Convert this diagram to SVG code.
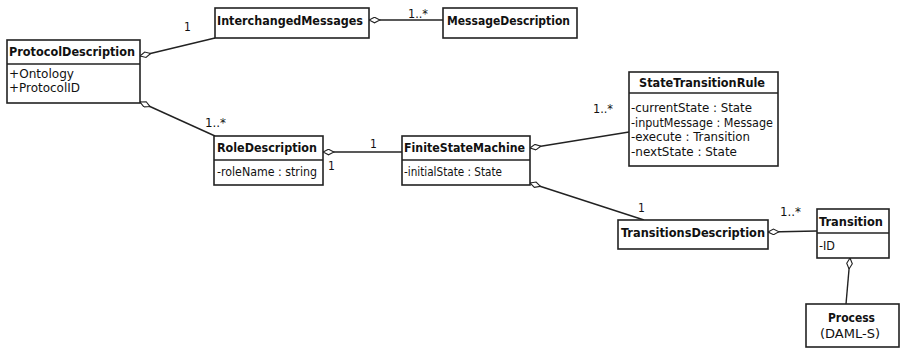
<svg xmlns="http://www.w3.org/2000/svg" width="901" height="348" viewBox="0 0 901 348">
<style>
.box{fill:#fff;stroke:#222;stroke-width:1.6}
.div{stroke:#222;stroke-width:1.4}
.t{font-family:"DejaVu Sans Condensed","DejaVu Sans",sans-serif;font-weight:bold;font-size:12.5px;fill:#111}
.a{font-family:"DejaVu Sans Condensed","DejaVu Sans",sans-serif;font-size:11.5px;fill:#111}
.m{font-family:"DejaVu Sans Condensed","DejaVu Sans",sans-serif;font-size:12px;fill:#111}
.c{fill:none;stroke:#222;stroke-width:1.4;marker-start:url(#dia)}
</style>
<defs>
<marker id="dia" viewBox="0 0 12 7" refX="0.5" refY="3.5" markerWidth="12" markerHeight="7" markerUnits="userSpaceOnUse" orient="auto">
<path d="M0.5,3.5 L6,0.7 L11.5,3.5 L6,6.3 Z" fill="#fff" stroke="#222" stroke-width="1.1"/>
</marker>
</defs>
<rect width="901" height="348" fill="#fff"/>
<g id="connectors">
<path class="c" d="M140,56 L215,38"/>
<path class="c" d="M140,102 L215,136"/>
<path class="c" d="M369,20 L443,20"/>
<path class="c" d="M323,152 L402,152"/>
<path class="c" d="M530,148 L629,132"/>
<path class="c" d="M530,183 L644,220"/>
<path class="c" d="M768,232 L817,231"/>
<path class="c" d="M850,258 L846,304"/>
<text class="m" x="184" y="31">1</text>
<text class="m" x="408" y="18" textLength="20" lengthAdjust="spacingAndGlyphs">1..*</text>
<text class="m" x="205" y="127" textLength="21" lengthAdjust="spacingAndGlyphs">1..*</text>
<text class="m" x="370" y="148">1</text>
<text class="m" x="328" y="170">1</text>
<text class="m" x="593" y="113" textLength="20" lengthAdjust="spacingAndGlyphs">1..*</text>
<text class="m" x="638" y="212">1</text>
<text class="m" x="780" y="216" textLength="21" lengthAdjust="spacingAndGlyphs">1..*</text>
</g>
<g id="ProtocolDescription">
<rect class="box" x="7" y="40" width="133" height="63"/>
<line class="div" x1="7" y1="64" x2="140" y2="64"/>
<text class="t" x="9" y="56" textLength="126" lengthAdjust="spacingAndGlyphs">ProtocolDescription</text>
<text class="a" x="9" y="78" textLength="65" lengthAdjust="spacingAndGlyphs">+Ontology</text>
<text class="a" x="9" y="92" textLength="71" lengthAdjust="spacingAndGlyphs">+ProtocolID</text>
</g>
<g id="InterchangedMessages">
<rect class="box" x="215" y="8" width="154" height="30"/>
<text class="t" x="217" y="25" textLength="146" lengthAdjust="spacingAndGlyphs">InterchangedMessages</text>
</g>
<g id="MessageDescription">
<rect class="box" x="443" y="8" width="134" height="30"/>
<text class="t" x="447" y="25" textLength="123" lengthAdjust="spacingAndGlyphs">MessageDescription</text>
</g>
<g id="StateTransitionRule">
<rect class="box" x="629" y="72" width="149" height="94"/>
<line class="div" x1="629" y1="93" x2="778" y2="93"/>
<text class="t" x="639" y="87" textLength="126" lengthAdjust="spacingAndGlyphs">StateTransitionRule</text>
<text class="a" x="631" y="112" textLength="121" lengthAdjust="spacingAndGlyphs">-currentState : State</text>
<text class="a" x="631" y="127" textLength="142" lengthAdjust="spacingAndGlyphs">-inputMessage : Message</text>
<text class="a" x="631" y="141" textLength="119" lengthAdjust="spacingAndGlyphs">-execute : Transition</text>
<text class="a" x="631" y="156" textLength="106" lengthAdjust="spacingAndGlyphs">-nextState : State</text>
</g>
<g id="RoleDescription">
<rect class="box" x="214" y="136" width="109" height="49"/>
<line class="div" x1="214" y1="160" x2="323" y2="160"/>
<text class="t" x="217" y="152" textLength="100" lengthAdjust="spacingAndGlyphs">RoleDescription</text>
<text class="a" x="217" y="176" textLength="100" lengthAdjust="spacingAndGlyphs">-roleName : string</text>
</g>
<g id="FiniteStateMachine">
<rect class="box" x="402" y="136" width="128" height="49"/>
<line class="div" x1="402" y1="160" x2="530" y2="160"/>
<text class="t" x="404" y="152" textLength="121" lengthAdjust="spacingAndGlyphs">FiniteStateMachine</text>
<text class="a" x="404" y="176" textLength="98" lengthAdjust="spacingAndGlyphs">-initialState : State</text>
</g>
<g id="TransitionsDescription">
<rect class="box" x="618" y="220" width="150" height="29"/>
<text class="t" x="621" y="237" textLength="144" lengthAdjust="spacingAndGlyphs">TransitionsDescription</text>
</g>
<g id="Transition">
<rect class="box" x="817" y="209" width="72" height="49"/>
<line class="div" x1="817" y1="233" x2="889" y2="233"/>
<text class="t" x="819" y="226" textLength="64" lengthAdjust="spacingAndGlyphs">Transition</text>
<text class="a" x="819" y="250" textLength="16" lengthAdjust="spacingAndGlyphs">-ID</text>
</g>
<g id="Process">
<rect class="box" x="806" y="304" width="93" height="43"/>
<text class="t" x="828" y="322" textLength="47" lengthAdjust="spacingAndGlyphs">Process</text>
<text class="a" x="820" y="338" textLength="60" lengthAdjust="spacingAndGlyphs">(DAML-S)</text>
</g>
</svg>
